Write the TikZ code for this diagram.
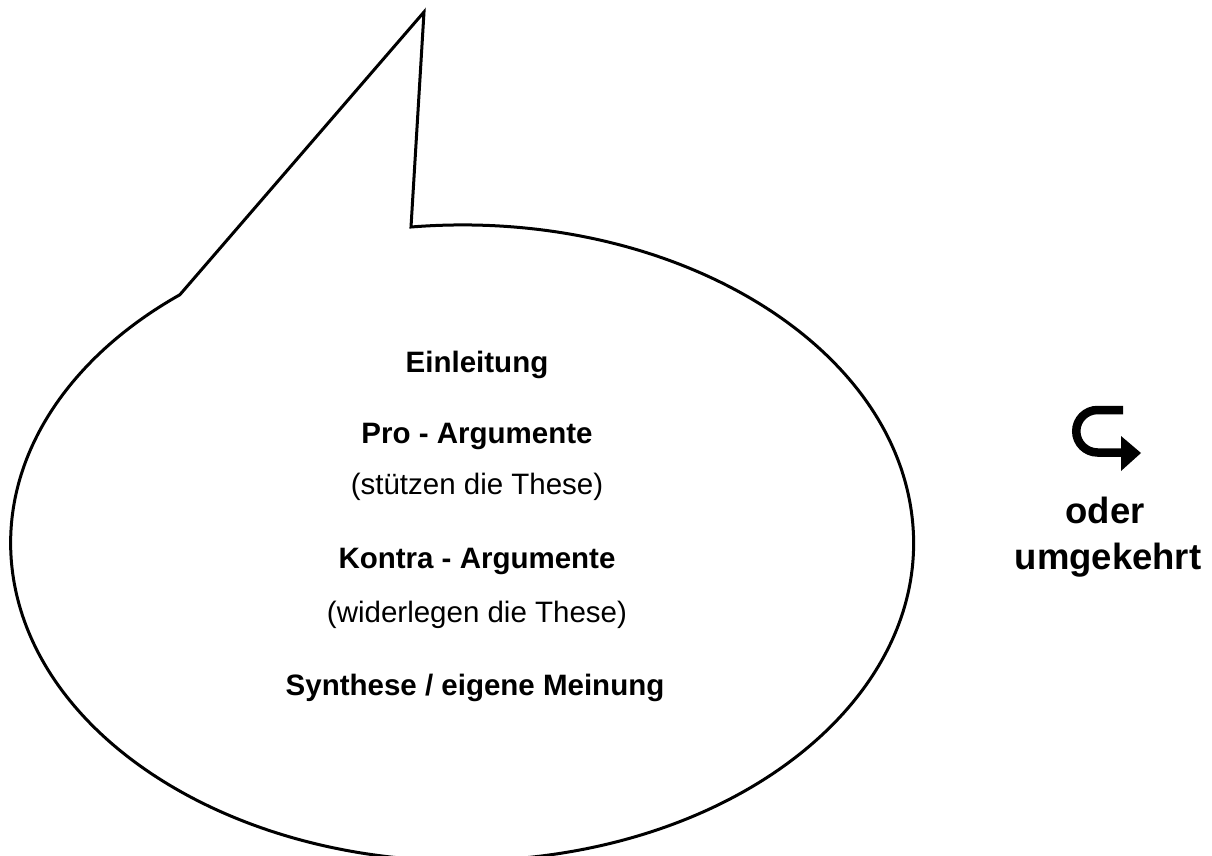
\documentclass[tikz,border=0pt]{standalone}
\usepackage{fontspec}
\setmainfont{Liberation Sans}
\begin{document}
\begin{tikzpicture}[x=1pt,y=1pt,
  bubbletext/.style={anchor=base,inner sep=0pt,font=\fontsize{29.5}{35}\selectfont},
  boldtext/.style={bubbletext,font=\fontsize{29.5}{35}\selectfont\bfseries},
  sidetext/.style={anchor=base,inner sep=0pt,font=\fontsize{36.5}{43}\selectfont\bfseries},
  outline/.style={draw=black,line width=3pt,line join=miter}]
\useasboundingbox (0,-856) rectangle (1212,0);
\clip (0,-856) rectangle (1212,0);
\fill[white] (0,-856) rectangle (1212,0);
% speech bubble
\coordinate (tip) at (424,-12);
\coordinate (tailB) at (411,-227);
\draw[outline] (tip) -- (tailB)
  arc[start angle=96.5,end angle=-231.3,x radius=451.5,y radius=318] -- cycle;
% texts
\node[boldtext] (einl) at (477,-372) {Einleitung};
\node[boldtext] (pro) at (477,-443) {Pro - Argumente};
\node[bubbletext] (prosub) at (477,-494) {(stützen die These)};
\node[boldtext] (kontra) at (477,-568) {Kontra - Argumente};
\node[bubbletext] (kontrasub) at (477,-622) {(widerlegen die These)};
\node[boldtext] (synth) at (475,-695) {Synthese / eigene Meinung};
\node[sidetext] (oder) at (1105,-523) {oder};
\node[sidetext] (umg) at (1108,-569) {umgekehrt};
% hook arrow
\coordinate (hookstart) at (1123,-410);
\coordinate (hookend) at (1123,-452.5);
\draw[line width=8.5pt,line cap=butt] (hookstart) -- (1097.5,-410)
  arc[start angle=90,end angle=270,radius=21.25] -- (hookend);
\fill (1121,-436) -- (1141,-453) -- (1121,-471) -- cycle;
\end{tikzpicture}
\end{document}
